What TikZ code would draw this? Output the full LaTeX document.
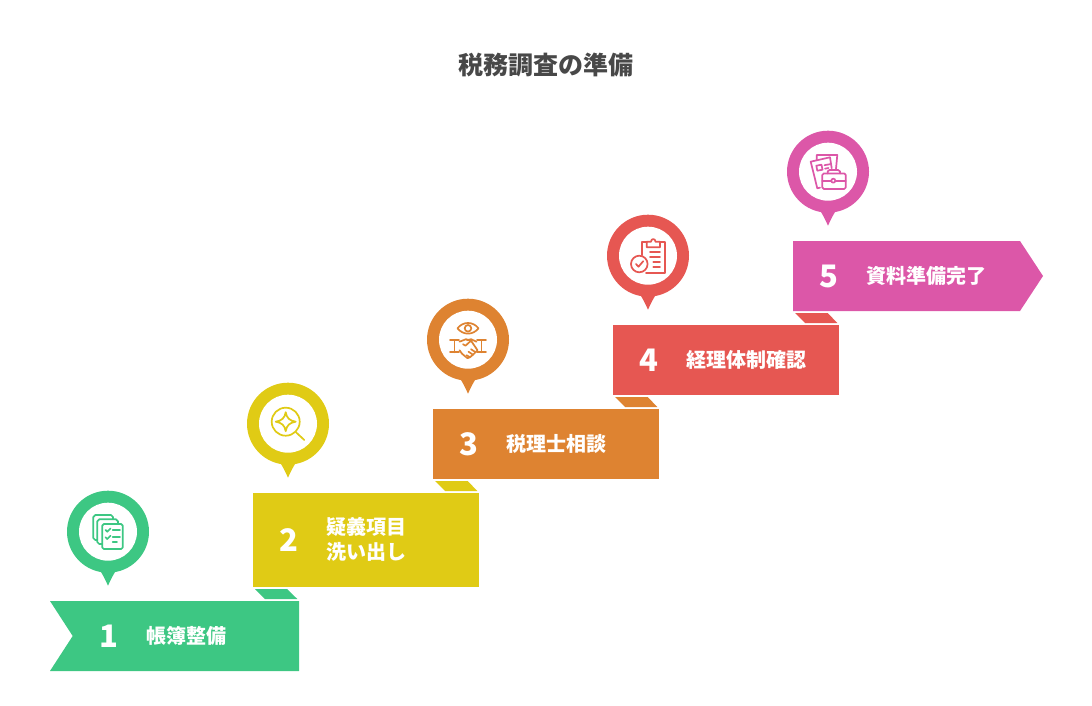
\documentclass[tikz,border=0pt]{standalone}
\usepackage{fontspec}
\setmainfont{Noto Sans CJK JP}
\definecolor{stepgreen}{HTML}{3DC783}
\definecolor{stepyellow}{HTML}{E0CB15}
\definecolor{steporange}{HTML}{DE8331}
\definecolor{stepred}{HTML}{E65752}
\definecolor{steppink}{HTML}{DC57A8}
\definecolor{titlegray}{HTML}{484848}
\begin{document}
\begin{tikzpicture}[
  x=1pt, y=-1pt,
  every node/.style={inner sep=0pt, outer sep=0pt},
  titletext/.style={font=\fontsize{25}{30}\selectfont\bfseries, text=titlegray},
  stepnum/.style={font=\fontsize{31}{36}\selectfont\bfseries, text=white},
  steplabel/.style={anchor=west, align=left, font=\fontsize{20}{25}\selectfont\bfseries, text=white},
  iconline/.style={line width=1.7pt, line join=round, line cap=round, fill=none},
]
  \useasboundingbox (0,0) rectangle (1092,706);
  \node[titletext] (title) at (546,65.5) {税務調査の準備};

  % folds
  \fill[stepgreen] (255,589) -- (287,589) -- (297.3,599) -- (265,599) -- cycle;
  \fill[stepyellow] (435,481) -- (467.7,481) -- (477.3,491) -- (445,491) -- cycle;
  \fill[steporange] (615,397) -- (647.7,397) -- (657.3,407) -- (625,407) -- cycle;
  \fill[stepred] (795,313) -- (827.7,313) -- (837.3,323) -- (805,323) -- cycle;

  % steps
  \fill[stepgreen] (50,601) -- (299,601) -- (299,671) -- (50,671) -- (72.7,636) -- cycle;
  \fill[stepyellow] (253,493) rectangle (479,587);
  \fill[steporange] (433,409) rectangle (659,479);
  \fill[stepred] (613,325) rectangle (839,395);
  \fill[steppink] (793,241) -- (1020,241) -- (1043,276) -- (1020,311) -- (793,311) -- cycle;

  \node[stepnum] (num1) at (108.7,636) {1};
  \node[stepnum] (num2) at (288.7,540) {2};
  \node[stepnum] (num3) at (468.7,444) {3};
  \node[stepnum] (num4) at (648.7,360) {4};
  \node[stepnum] (num5) at (828.7,276) {5};
  \node[steplabel] (label1) at (146,636) {帳簿整備};
  \node[steplabel] (label2) at (326,539.5) {疑義項目\\洗い出し};
  \node[steplabel] (label3) at (506,444) {税理士相談};
  \node[steplabel] (label4) at (686,360) {経理体制確認};
  \node[steplabel] (label5) at (866,276) {資料準備完了};

  % pin 1
  \begin{scope}[shift={(108,531.7)}]
    \fill[stepgreen] (0,0) circle (41);
    \fill[stepgreen] (-8.5,38) .. controls (-7,40) and (-3,47) .. (0,54) .. controls (3,47) and (7,40) .. (8.5,38) -- cycle;
    \fill[white] (0,0) circle (29);
    \begin{scope}[iconline, draw=stepgreen]
      \draw (-10.7,8.3) -- (-12.7,8.3) -- (-14.7,6.3) -- (-14.7,-14.7) -- (-12.7,-16.7) -- (3,-16.7) -- (5,-14.7) -- (5,-12.4);
      \draw (-5.7,12.3) -- (-8.7,12.3) -- (-10.7,10.3) -- (-10.7,-10.4) -- (-8.7,-12.4) -- (8,-12.4) -- (10,-10.4) -- (10,-7.7);
      \draw[rounded corners=1.5] (-5.7,-7.7) rectangle (14.7,17.3);
      \draw (-2.5,-1.8) -- (-0.8,0) -- (2.5,-3.2);
      \draw (-2.5,5.5) -- (-0.8,7.3) -- (2.5,4.1);
      \draw (4.7,-1.7) -- (12,-1.7);
      \draw (4.7,5.6) -- (12,5.6);
      \draw (4.7,10.6) -- (9,10.6);
    \end{scope}
  \end{scope}

  % pin 2
  \begin{scope}[shift={(288,423.7)}]
    \fill[stepyellow] (0,0) circle (41);
    \fill[stepyellow] (-8.5,38) .. controls (-7,40) and (-3,47) .. (0,54) .. controls (3,47) and (7,40) .. (8.5,38) -- cycle;
    \fill[white] (0,0) circle (29);
    \begin{scope}[iconline, draw=stepyellow]
      \draw (-2.3,-2) circle (14);
      \draw (8,8.6) -- (16.3,16.3);
      \draw (-2.3,-11.5) .. controls (-1.3,-5.5) and (1.7,-3) .. (7.7,-2) .. controls (1.7,-1) and (-1.3,1.5) .. (-2.3,7.5) .. controls (-3.3,1.5) and (-6.3,-1) .. (-12.3,-2) .. controls (-6.3,-3) and (-3.3,-5.5) .. (-2.3,-11.5) -- cycle;
    \end{scope}
  \end{scope}

  % pin 3
  \begin{scope}[shift={(468,339.7)}]
    \fill[steporange] (0,0) circle (41);
    \fill[steporange] (-8.5,38) .. controls (-7,40) and (-3,47) .. (0,54) .. controls (3,47) and (7,40) .. (8.5,38) -- cycle;
    \fill[white] (0,0) circle (29);
    \begin{scope}[iconline, draw=steporange]
      \draw (-10.5,-11.4) .. controls (-5,-18.5) and (5,-18.5) .. (10.5,-11.4) .. controls (5,-4.3) and (-5,-4.3) .. (-10.5,-11.4) -- cycle;
      \draw (0,-11.4) circle (3.3);
      \draw (-18,0.3) -- (-9,0.3);
      \draw (-13.5,0.3) -- (-13.5,12.6);
      \draw (-18,12.6) -- (-9,12.6);
      \draw (18,0.3) -- (9,0.3);
      \draw (13.5,0.3) -- (13.5,12.6);
      \draw (18,12.6) -- (9,12.6);
      \draw (-8.5,2) -- (-2,-0.5) -- (3,1) -- (-2.5,6) -- (-5,4.5);
      \draw (8.5,2) -- (3,-0.5) -- (-1,0.5);
      \draw (3,1) -- (9.5,10.5) -- (7.5,12.5) -- (3,9.5);
      \draw (7.5,12.5) -- (5,15) -- (0.5,12);
      \draw (5,15) -- (2,17.5) -- (-1.5,15.5);
      \draw (-8.5,10.5) -- (-6,14) -- (-3,16.5) -- (-0.5,18.5) -- (2,17.5);
    \end{scope}
  \end{scope}

  % pin 4
  \begin{scope}[shift={(648,255.7)}]
    \fill[stepred] (0,0) circle (41);
    \fill[stepred] (-8.5,38) .. controls (-7,40) and (-3,47) .. (0,54) .. controls (3,47) and (7,40) .. (8.5,38) -- cycle;
    \fill[white] (0,0) circle (29);
    \begin{scope}[iconline, draw=stepred]
      \draw (-6.3,-0.5) -- (-6.3,-14) -- (-1.3,-14);
      \draw (12,-14) -- (17,-14) -- (17,17) -- (-2,17);
      \draw (-1.3,-14) -- (3,-14) .. controls (3,-17.5) and (7.5,-17.5) .. (7.5,-14) -- (12,-14) -- (12,-8.5) -- (-1.3,-8.5) -- cycle;
      \draw (-8.7,8.3) circle (8.3);
      \draw (-12,8.3) -- (-9.5,11) -- (-4.8,5.5);
      \draw (2,-3.7) -- (12,-3.7);
      \draw (2,1.3) -- (12,1.3);
      \draw (5.3,6) -- (12,6);
      \draw (5.3,11) -- (12,11);
    \end{scope}
  \end{scope}

  % pin 5
  \begin{scope}[shift={(828,171.7)}]
    \fill[steppink] (0,0) circle (41);
    \fill[steppink] (-8.5,38) .. controls (-7,40) and (-3,47) .. (0,54) .. controls (3,47) and (7,40) .. (8.5,38) -- cycle;
    \fill[white] (0,0) circle (29);
    \begin{scope}[iconline, draw=steppink]
      \draw (-11.3,-12) -- (-11.3,-16.7) -- (9.3,-16.7) -- (8,-3);
      \draw (-17.3,-10) -- (2,-14.4) -- (3.7,-3.4);
      \draw (-17.3,-10) -- (-10.7,16.6) -- (-8,16);
      \draw (-11.7,-6) -- (-6.5,-7) -- (-5.5,-2) -- (-10.7,-1) -- cycle;
      \draw (-3.5,-6.5) -- (2,-7.5);
      \draw (-3,-3) -- (0.5,-3.7);
      \draw[rounded corners=1.5] (-5.7,1.7) rectangle (17.7,17.3);
      \draw (-0.3,1.7) -- (-0.3,-0.3) -- (1.5,-1.7) -- (10,-1.7) -- (12,-0.3) -- (12,1.7);
      \draw (-5.7,9) -- (3.3,9);
      \draw (7.3,9) -- (17.7,9);
      \draw (5.3,9) circle (2);
    \end{scope}
  \end{scope}
\end{tikzpicture}
\end{document}
